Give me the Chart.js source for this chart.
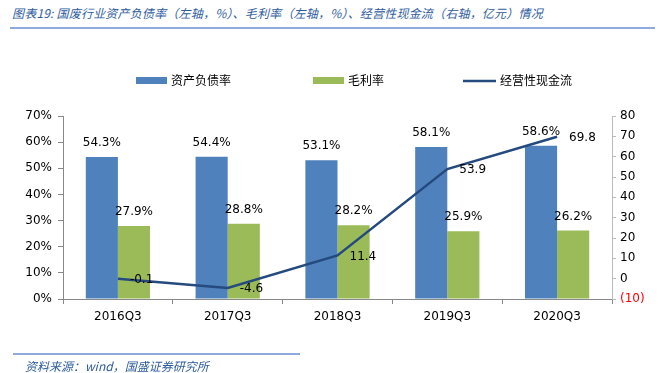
<!DOCTYPE html>
<html lang="zh">
<head>
    <meta charset="UTF-8">
    <title>国废行业</title>
    <script src="https://cdn.jsdelivr.net/npm/chart.js@4.4.1/dist/chart.umd.min.js"></script>
    <style>
        body { margin:0; width:664px; height:373px; background:#fff; position:relative; overflow:hidden; }
        #box { position:absolute; left:0; top:0; width:664px; height:373px; }
        .title { position:absolute; left:12px; top:4px; font:italic 12px "Noto Sans CJK SC"; color:#2E5C9E; white-space:nowrap; letter-spacing:0.2px; }
        .rule { position:absolute; height:2px; background:#8FAADC; }
        .src { position:absolute; left:25px; top:357px; font:italic 12px "Noto Sans CJK SC"; color:#2E5C9E; }
    </style>
</head>
<body>
    <div class="title">图表19:&nbsp;国废行业资产负债率（左轴，%）、毛利率（左轴，%）、经营性现金流（右轴，亿元）情况</div>
    <div class="rule" style="left:10px; top:27px; width:645px;"></div>
    <div id="box"><canvas id="myChart" width="664" height="373"></canvas></div>
    <div class="rule" style="left:13px; top:353px; width:287px;"></div>
    <div class="src">资料来源：wind，国盛证券研究所</div>
    <script>
        // 데이터
        var v_labels = ["2016Q3", "2017Q3", "2018Q3", "2019Q3", "2020Q3"];
        var v_debt = [54.3, 54.4, 53.1, 58.1, 58.6];     // 资产负债率 (%)
        var v_margin = [27.9, 28.8, 28.2, 25.9, 26.2];   // 毛利率 (%)
        var v_cash = [-0.1, -4.6, 11.4, 53.9, 69.8];     // 经营性现金流 (亿元)
        var v_names = ["资产负债率", "毛利率", "经营性现金流"];

        var c_blue = "#4F81BD", c_green = "#9BBB59", c_line = "#254A7E";
        var f_font = "12px 'DejaVu Sans'";

        // 막대/선 위에 숫자 + 범례 직접 그리기
        var f_labels = {
            id: "labels",
            afterDatasetsDraw: function(chart){
                var ctx = chart.ctx;
                ctx.save();
                ctx.font = f_font;
                ctx.fillStyle = "#000";
                [0, 1].forEach(function(di){
                    chart.getDatasetMeta(di).data.forEach(function(bar, i){
                        ctx.textAlign = "center";
                        ctx.textBaseline = "bottom";
                        var v = chart.data.datasets[di].data[i];
                        ctx.fillText(v.toFixed(1) + "%", bar.x, bar.y - 8);
                    });
                });
                chart.getDatasetMeta(2).data.forEach(function(pt, i){
                    ctx.textAlign = "left";
                    ctx.textBaseline = "middle";
                    ctx.fillText(v_cash[i].toFixed(1), pt.x + 12, pt.y + 1);
                });

                // legend
                ctx.font = "12px 'Noto Sans CJK SC'";
                ctx.textAlign = "left";
                ctx.textBaseline = "middle";
                var ly = 80;
                ctx.fillStyle = c_blue; ctx.fillRect(136, ly - 3, 31, 7);
                ctx.fillStyle = c_green; ctx.fillRect(313, ly - 3, 31, 7);
                ctx.strokeStyle = c_line; ctx.lineWidth = 2.5;
                ctx.beginPath(); ctx.moveTo(463, ly + 1); ctx.lineTo(496, ly + 1); ctx.stroke();
                ctx.fillStyle = "#000";
                ctx.fillText(v_names[0], 171, ly);
                ctx.fillText(v_names[1], 348, ly);
                ctx.fillText(v_names[2], 500, ly);
                ctx.restore();
            }
        };

        const ctx = document.getElementById('myChart').getContext('2d');
        const myChart = new Chart(ctx, {
            type: 'bar',
            data: {
                labels: v_labels,
                datasets: [
                    { label: v_names[0], data: v_debt, backgroundColor: c_blue, yAxisID: 'y',
                      categoryPercentage: 0.585, barPercentage: 1.0, order: 2 },
                    { label: v_names[1], data: v_margin, backgroundColor: c_green, yAxisID: 'y',
                      categoryPercentage: 0.585, barPercentage: 1.0, order: 2 },
                    { label: v_names[2], data: v_cash, type: 'line', yAxisID: 'y1',
                      borderColor: c_line, borderWidth: 2.5, pointRadius: 0, tension: 0, order: 1 }
                ]
            },
            plugins: [f_labels],
            options: {
                responsive: false,
                animation: false,
                layout: { padding: { top: 116, left: 0, right: 0, bottom: 0 } },
                plugins: { legend: { display: false }, tooltip: { enabled: false } },
                scales: {
                    x: {
                        grid: { drawOnChartArea: false, tickLength: 5, color: "#888", offset: true },
                        border: { color: "#888" },
                        ticks: { color: "#000", font: { family: "DejaVu Sans", size: 12 }, padding: 6 },
                        afterFit: function(s){ s.height = 74; }
                    },
                    y: {
                        position: 'left',
                        min: 0, max: 70,
                        grid: { drawOnChartArea: false, tickLength: 5, color: "#888" },
                        border: { color: "#888" },
                        ticks: { stepSize: 10, color: "#000", font: { family: "DejaVu Sans", size: 12 }, padding: 6,
                                 callback: function(v){ return v + "%"; } },
                        afterFit: function(s){ s.width = 63; }
                    },
                    y1: {
                        position: 'right',
                        min: -10, max: 80,
                        grid: { drawOnChartArea: false, tickLength: 4, color: "#bbb" },
                        border: { color: "#bbb" },
                        ticks: { stepSize: 10, font: { family: "DejaVu Sans", size: 12 }, padding: 4,
                                 color: function(c){ return c.tick.value < 0 ? "#FF0000" : "#000"; },
                                 callback: function(v){ return v < 0 ? "(" + (-v) + ")" : v; } },
                        afterFit: function(s){ s.width = 52; }
                    }
                }
            }
        });
    </script>
</body>
</html>
